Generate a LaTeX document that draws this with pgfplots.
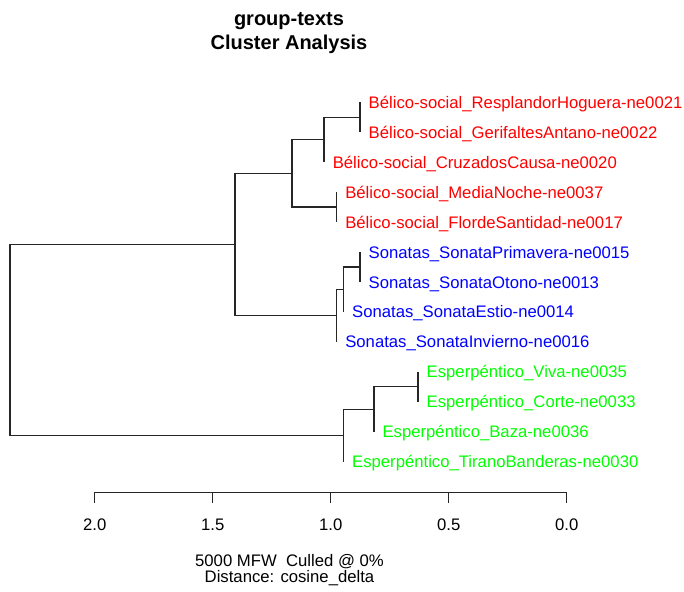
\documentclass[border=0pt]{standalone}
\usepackage{fontspec}
\setmainfont{Liberation Sans}
\usepackage{pgfplots}
\pgfplotsset{compat=1.18}

\definecolor{belico}{RGB}{255,0,0}
\definecolor{sonata}{RGB}{0,0,255}
\definecolor{esper}{RGB}{0,255,0}

\newcommand{\lbl}{\fontsize{16.7bp}{20bp}\selectfont}
\newcommand{\ttl}{\fontsize{20bp}{24bp}\selectfont\bfseries}

\begin{document}
\begin{tikzpicture}
\useasboundingbox (0,0) rectangle (684bp,592bp);

% dendrogram: x = distance (reversed), y = pixel row (top down)
\begin{axis}[%
at={(0,0)}, anchor=south west,%
width=684bp, height=592bp, scale only axis,%
xmin=-0.4970, xmax=2.4013, x dir=reverse,%
ymin=0, ymax=592, y dir=reverse,%
hide axis, clip=false]

\tikzset{br/.style={black!85, line width=1.3bp, line join=miter, no markers, solid}}

\addplot[br] coordinates {(0.876,102.3) (0.876,132.25)};
\addplot[br] coordinates {(0.876,117.275) (1.028,117.275) (1.028,162.2)};
\addplot[br] coordinates {(0.975,192.15) (0.975,222.1)};
\addplot[br] coordinates {(1.028,139.74) (1.164,139.74) (1.164,207.125) (0.975,207.125)};
\addplot[br] coordinates {(0.876,252.05) (0.876,282.0)};
\addplot[br] coordinates {(0.876,267.025) (0.946,267.025) (0.946,311.95)};
\addplot[br] coordinates {(0.946,289.49) (0.975,289.49) (0.975,341.9)};
\addplot[br] coordinates {(1.164,173.43) (1.405,173.43) (1.405,315.69) (0.975,315.69)};
\addplot[br] coordinates {(0.630,371.85) (0.630,401.8)};
\addplot[br] coordinates {(0.630,386.825) (0.817,386.825) (0.817,431.75)};
\addplot[br] coordinates {(0.817,409.29) (0.946,409.29) (0.946,461.7)};
\addplot[br] coordinates {(1.405,244.56) (2.359,244.56) (2.359,435.49) (0.946,435.49)};

\tikzset{leaf/.style={anchor=base west, inner sep=0pt, xshift=8.5bp, yshift=-6bp, font=\lbl}}
\node[leaf, belico] at (axis cs:0.876,102.3) {Bélico-social\_ResplandorHoguera-ne0021};
\node[leaf, belico] at (axis cs:0.876,132.25) {Bélico-social\_GerifaltesAntano-ne0022};
\node[leaf, belico] at (axis cs:1.028,162.2) {Bélico-social\_CruzadosCausa-ne0020};
\node[leaf, belico] at (axis cs:0.975,192.15) {Bélico-social\_MediaNoche-ne0037};
\node[leaf, belico] at (axis cs:0.975,222.1) {Bélico-social\_FlordeSantidad-ne0017};
\node[leaf, sonata] at (axis cs:0.876,252.05) {Sonatas\_SonataPrimavera-ne0015};
\node[leaf, sonata] at (axis cs:0.876,282.0) {Sonatas\_SonataOtono-ne0013};
\node[leaf, sonata] at (axis cs:0.946,311.95) {Sonatas\_SonataEstio-ne0014};
\node[leaf, sonata] at (axis cs:0.975,341.9) {Sonatas\_SonataInvierno-ne0016};
\node[leaf, esper] at (axis cs:0.630,371.85) {Esperpéntico\_Viva-ne0035};
\node[leaf, esper] at (axis cs:0.630,401.8) {Esperpéntico\_Corte-ne0033};
\node[leaf, esper] at (axis cs:0.817,431.75) {Esperpéntico\_Baza-ne0036};
\node[leaf, esper] at (axis cs:0.946,461.7) {Esperpéntico\_TiranoBanderas-ne0030};
\end{axis}

% distance scale
\begin{axis}[%
at={(94.7bp,99.7bp)}, anchor=south west,%
width=472bp, height=5bp, scale only axis,%
xmin=0, xmax=2, x dir=reverse, ymin=0, ymax=1,%
hide y axis, axis x line*=bottom,%
axis line style={-, black!85, line width=1.2bp},%
xtick={0,0.5,1,1.5,2},%
xticklabels={0.0,0.5,1.0,1.5,2.0},%
xtick align=outside, major tick length=10.4bp,%
every tick/.style={black!85, line width=1.2bp},%
xticklabel style={font=\lbl, anchor=base, yshift=-28bp}]
\end{axis}

\node[anchor=base, font=\ttl] at (289bp,566bp) {group-texts};
\node[anchor=base, font=\ttl] at (289bp,542.7bp) {Cluster Analysis};
\node[anchor=base, align=center, inner sep=0pt, font={\fontsize{16.7bp}{14bp}\selectfont}]
  at (289.5bp,9.7bp) {5000 MFW\ \ Culled @ 0\%\\Distance: cosine\_delta};
\end{tikzpicture}
\end{document}
